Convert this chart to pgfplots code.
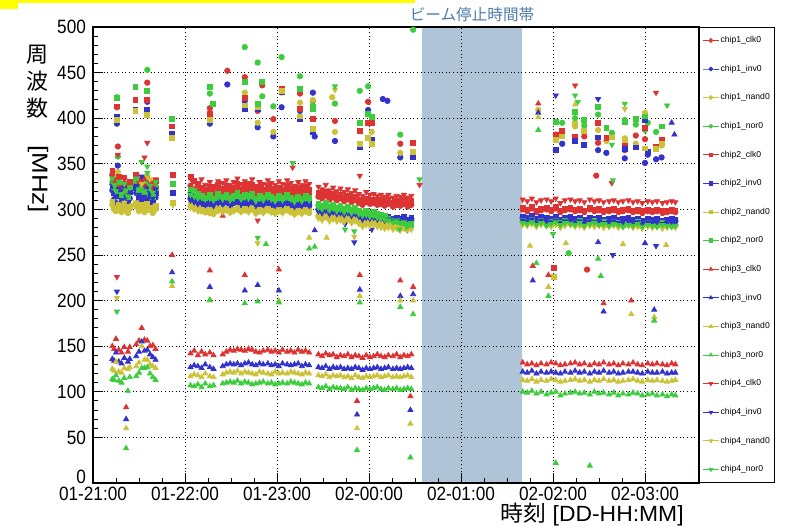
\documentclass[border=0pt]{standalone}
\usepackage{fontspec}
\setmainfont{Liberation Sans}
\newfontfamily\jp{Noto Sans CJK JP}
\usepackage{graphicx}
\usepackage{pgfplots}
\usepackage{pgfplotstable}
\pgfplotsset{compat=1.18}
\usetikzlibrary{calc}

\definecolor{rred}{HTML}{DD3333}
\definecolor{rblue}{HTML}{3333CC}
\definecolor{ryellow}{HTML}{CCC23A}
\definecolor{rgreen}{HTML}{3DCC3D}
\definecolor{band}{HTML}{AFC4D6}
\definecolor{bandtext}{HTML}{4F7BAA}
\definecolor{hilite}{HTML}{FFFF00}

% t = hours after 01-21:00; a=clk0 b=inv0 c=nand0 d=nor0, one group per chip
\pgfplotstableread{
t    a1  b1  c1  d1  a2  b2  c2  d2  a3  b3  c3  d3  a4  b4  c4  d4
0.21 338 321 305 330 342 326 308 334 150 136 125 114 336 326 308 334
0.23 326 311 300 322 333 318 302 327 147 134 123 113 330 318 302 327
0.25 320 307 298 314 328 315 300 320 158 143 133 118 331 315 300 320
0.28 330 316 302 324 336 322 305 330 146 133 122 112 334 322 305 330
0.31 318 305 297 312 322 310 299 316 143 131 121 110 325 310 299 316
0.34 328 318 304 320 335 324 307 328 149 137 126 115 333 324 307 328
0.36 322 309 300 316 327 314 302 321 83  70  60  38  329 314 302 321
0.38 316 304 296 310 320 308 298 314 144 133 125 101 324 308 298 314
0.40 324 312 301 318 330 319 304 324 149 136 127 116 331 319 304 324
0.47 332 318 303 326 338 324 306 331 152 139 128 117 337 326 308 334
0.50 321 309 298 315 326 313 301 319 156 144 132 121 329 316 302 322
0.53 327 315 302 321 333 320 305 326 170 155 150 126 352 336 328 352
0.56 318 306 297 312 323 311 299 317 157 145 135 126 326 314 300 320
0.59 329 316 303 323 334 321 306 328 156 146 135 127 336 324 336 340
0.62 322 310 299 316 328 315 302 320 150 141 130 120 330 318 333 326
0.65 316 305 296 310 320 308 298 314 151 138 128 116 324 312 299 318
0.68 325 313 300 319 331 318 304 324 147 135 126 113 333 322 304 330
0.86 nan nan nan nan 391 383 378 399 250 231 216 221 nan nan nan nan
0.87 nan nan nan nan 338 318 307 328 nan nan nan nan nan nan 305 nan
1.06 326 312 303 318 336 316 306 322 142 127 117 107 334 310 302 316
1.10 322 309 301 315 331 313 304 320 145 129 119 106 331 308 300 314
1.14 320 307 300 313 327 311 302 317 140 128 118 108 329 306 298 312
1.18 318 306 298 311 324 309 300 315 144 126 116 105 333 307 299 313
1.22 316 305 297 310 321 308 299 313 141 130 120 109 327 305 297 311
1.27 319 306 296 312 325 310 300 316 143 127 117 106 330 306 296 312
1.31 317 304 295 309 322 307 298 312 140 125 116 107 326 304 295 310
1.36 321 307 299 313 327 312 302 317 nan nan nan nan 331 307 298 313
1.41 318 306 298 311 323 309 300 314 141 128 119 109 329 306 297 311
1.45 320 308 300 312 326 311 301 316 144 130 121 110 332 308 299 313
1.49 316 304 297 310 321 308 299 313 146 131 122 111 327 305 296 310
1.53 319 307 299 312 324 310 300 315 145 130 121 110 330 307 298 312
1.57 322 308 300 314 328 312 302 318 147 131 123 112 334 309 300 315
1.61 317 305 298 311 322 309 299 314 146 129 120 109 328 306 297 311
1.65 320 307 299 313 326 311 301 316 145 131 122 111 331 308 299 313
1.69 318 306 298 311 324 310 300 315 147 132 121 110 329 306 297 312
1.73 321 308 300 313 327 312 302 317 146 130 120 108 333 308 300 314
1.77 316 304 296 309 321 307 298 312 144 129 119 109 326 304 295 309
1.81 319 306 298 312 325 310 300 315 143 131 122 110 330 307 298 312
1.85 317 305 297 310 322 309 299 313 145 130 121 111 328 305 296 310
1.90 320 307 299 312 326 311 301 316 146 131 120 109 332 308 299 313
1.94 318 305 297 311 323 309 299 314 144 129 119 110 329 306 297 311
1.98 316 304 296 309 321 308 298 312 145 130 122 108 327 304 295 309
2.02 319 306 298 311 324 310 300 315 143 128 120 109 331 306 298 312
2.06 317 305 297 310 322 308 299 313 146 131 121 110 328 305 296 310
2.11 320 307 299 312 326 311 301 316 144 130 120 109 332 307 299 313
2.15 318 305 297 310 323 309 299 313 145 129 122 111 329 305 297 311
2.19 315 303 295 308 320 307 297 311 143 130 121 110 326 303 294 308
2.23 318 305 297 310 324 309 299 314 146 131 120 109 330 306 297 311
2.27 316 304 296 309 321 308 298 312 144 128 119 108 327 304 295 309
2.31 319 306 298 311 325 310 300 315 145 130 121 110 331 306 298 312
2.35 317 304 296 310 322 308 298 313 143 129 120 109 328 304 296 310
2.45 314 300 293 305 318 301 294 306 141 127 118 105 325 298 290 302
2.49 312 298 291 303 316 300 292 304 139 126 117 104 322 296 288 300
2.53 315 301 294 306 319 302 295 307 142 128 119 106 327 299 291 303
2.57 311 297 290 302 315 299 291 303 140 125 116 103 321 295 287 299
2.61 313 299 292 304 317 301 293 305 141 127 118 105 324 297 289 301
2.65 310 298 290 301 314 299 291 302 138 126 117 104 320 295 287 298
2.69 312 299 291 303 316 300 292 304 140 127 118 104 323 296 288 300
2.73 309 297 289 300 313 298 290 301 139 125 116 103 319 294 286 297
2.77 311 298 290 302 315 299 291 303 141 126 117 105 322 296 288 299
2.81 308 296 288 299 312 297 289 300 138 125 115 102 318 293 285 296
2.85 310 297 289 301 314 298 290 302 140 127 118 104 321 295 287 298
2.89 307 295 287 298 311 296 288 299 139 126 116 103 317 292 284 295
2.93 305 291 283 294 309 293 284 296 137 124 115 102 315 289 281 293
2.97 308 294 286 297 312 295 287 298 140 126 117 104 319 291 283 294
3.01 306 292 285 295 310 293 286 296 138 125 116 103 316 290 282 292
3.05 307 293 285 296 311 294 286 297 139 126 117 104 317 291 283 293
3.09 305 291 284 294 309 292 285 295 141 127 118 105 315 289 281 291
3.13 306 292 283 293 310 293 284 294 139 125 116 103 316 290 280 290
3.17 304 290 282 292 308 291 283 293 138 126 117 102 314 288 279 289
3.21 306 291 283 291 310 292 284 290 140 127 118 104 316 289 280 288
3.26 303 289 281 289 307 290 282 288 139 125 116 103 313 287 278 286
3.30 305 290 282 290 309 291 283 287 141 126 117 104 315 288 279 287
3.34 304 289 281 288 308 290 282 286 138 125 116 102 314 287 277 285
3.38 306 291 283 289 310 292 284 285 140 126 117 103 316 289 279 286
3.42 303 288 280 287 307 289 281 284 139 127 118 104 313 286 277 284
3.46 305 290 282 288 309 291 283 283 141 126 116 103 315 288 278 285
4.67 300 291 285 287 302 292 286 288 132 122 113 100 311 288 283 285
4.72 298 290 284 285 300 291 285 286 130 121 112 99  309 287 282 284
4.77 301 292 286 288 303 293 287 289 131 123 114 101 312 289 284 286
4.82 297 289 283 284 299 290 284 285 129 120 111 98  308 286 281 283
4.87 299 291 285 286 301 292 286 287 131 122 113 100 310 288 283 285
4.93 300 290 284 283 302 291 285 284 130 121 112 97  311 287 282 282
4.98 298 289 283 285 300 290 284 286 132 122 114 99  309 286 281 284
5.03 301 291 285 287 303 292 286 288 131 121 113 100 312 288 283 286
5.08 297 288 282 284 299 289 283 285 129 120 111 96  307 285 280 283
5.13 299 290 284 286 301 291 285 287 130 122 112 98  310 287 282 285
5.19 300 291 285 285 302 292 286 286 131 121 113 99  311 288 283 284
5.24 298 289 283 284 300 290 284 285 132 123 114 100 309 286 281 283
5.29 299 290 284 286 301 291 285 287 130 121 112 98  310 287 282 285
5.34 297 288 282 283 299 289 283 284 131 122 113 99  308 285 280 282
5.40 300 290 284 285 302 291 285 286 129 120 111 97  311 287 282 284
5.45 298 289 283 286 300 290 284 287 131 122 113 100 309 286 281 285
5.50 299 290 284 284 301 291 285 285 130 121 112 98  310 287 282 283
5.55 297 288 282 285 299 289 283 286 132 123 114 99  308 285 280 284
5.61 298 289 283 283 300 290 284 284 130 121 112 97  309 286 281 282
5.66 299 290 284 285 301 291 285 286 131 122 113 99  310 287 282 284
5.71 297 288 282 284 299 289 283 285 129 120 111 96  308 285 280 283
5.76 298 289 283 282 300 290 284 283 131 121 112 98  309 286 281 281
5.82 299 290 284 284 301 291 285 285 130 122 113 97  310 287 282 283
5.87 297 288 282 283 299 289 283 284 132 122 114 99  308 285 280 282
5.92 298 289 283 285 300 290 284 286 130 121 112 98  309 286 281 284
5.97 296 287 281 282 298 288 282 283 129 120 111 96  307 284 279 281
6.03 298 289 283 284 300 290 284 285 131 122 113 97  309 286 281 283
6.08 297 288 282 283 299 289 283 284 130 121 112 98  308 285 280 282
6.13 298 289 283 282 300 290 284 283 131 121 113 96  309 286 281 281
6.19 296 287 281 284 298 288 282 285 130 122 112 97  307 284 279 283
6.24 297 288 282 283 299 289 283 284 129 120 111 95  308 285 280 282
6.29 298 289 283 282 300 290 284 283 131 121 112 97  309 286 281 281
6.33 297 288 282 283 299 289 283 284 130 121 113 96  308 285 280 282
0.26 412 394 400 423 413 402 398 422 nan nan nan nan 226 210 203 188
0.27 369 348 341 358 nan nan nan nan nan nan nan nan 360 nan nan nan
0.46 nan nan nan nan 420 409 408 434 nan nan nan nan nan nan nan nan
0.59 439 418 420 453 420 409 404 430 nan nan nan nan 373 nan nan 347
0.56 nan nan nan nan nan nan nan nan nan nan nan nan 357 nan nan nan
1.27 411 394 400 427 405 nan 398 434 233 215 200 201 nan nan nan nan
1.30 nan nan nan nan nan nan nan 416 nan nan nan nan nan nan nan nan
1.41 nan nan nan nan nan nan nan nan 293 nan nan nan nan nan nan nan
1.46 452 437 nan nan nan nan nan nan nan nan nan nan nan nan nan nan
1.65 445 419 428 478 422 410 414 440 228 211 nan 197 nan nan nan nan
1.79 408 390 395 461 410 410 412 416 nan 217 nan 199 288 nan 263 269
1.84 436 nan nan 424 nan nan nan 440 nan nan nan nan nan nan nan nan
1.88 nan nan nan nan nan nan nan nan nan nan nan 262 nan nan nan nan
1.96 399 380 385 413 nan nan nan nan nan nan nan nan nan nan nan nan
2.02 nan nan nan nan nan nan nan nan 234 211 200 198 nan nan nan nan
2.05 431 412 428 467 432 429 430 nan nan nan nan nan nan nan nan nan
2.17 nan nan nan nan nan nan nan nan nan nan nan nan 346 nan nan 351
2.25 427 408 417 446 410 399 402 432 nan nan nan nan nan nan nan nan
2.35 nan nan nan nan nan nan nan nan nan nan 269 257 nan nan nan nan
2.39 419 428 420 414 399 385 388 410 nan nan nan nan nan nan nan nan
2.41 nan 380 nan nan nan nan nan nan nan 277 nan 259 nan nan nan nan
2.54 nan nan nan nan nan nan nan nan nan nan 269 nan nan nan nan nan
2.60 nan nan 423 nan nan nan nan nan nan nan nan nan nan nan nan nan
2.63 397 375 385 416 nan nan nan nan nan nan nan nan nan nan 431 435
2.74 nan nan nan nan nan nan nan nan nan nan nan nan nan 284 nan 278
2.84 nan nan nan nan nan nan nan nan nan nan nan nan nan 264 270 276
2.87 nan nan nan nan nan nan nan nan 90  75  60  36  nan nan nan nan
2.90 nan nan nan 430 386 368 372 395 228 212 205 198 337 nan nan nan
2.99 418 409 nan 435 395 378 378 405 nan nan nan nan nan nan nan nan
3.03 nan nan 385 nan 395 376 372 401 nan nan nan nan nan 278 nan nan
3.15 nan 421 nan nan nan nan nan nan nan nan nan nan nan nan nan nan
3.20 nan 419 nan nan nan nan nan nan nan nan nan nan nan nan nan nan
3.33 nan nan nan nan nan nan nan nan nan nan nan nan nan nan nan 278
3.34 372 357 362 382 nan nan nan nan 222 205 200 193 nan nan nan nan
3.41 nan nan nan nan nan nan nan nan nan nan nan nan nan 278 nan 281
3.45 nan nan nan nan nan nan nan nan 95  80  65  28  nan nan nan nan
3.48 nan nan nan 497 373 358 363 nan 215 207 200 185 nan nan nan nan
3.55 nan nan nan nan nan nan nan nan nan nan nan nan 327 nan nan 333
4.75 nan nan nan nan nan nan nan nan nan nan 260 nan nan nan nan nan
4.78 nan nan nan nan nan nan nan nan 238 222 nan nan nan nan nan nan
4.82 nan nan nan nan nan nan nan nan nan nan nan 241 nan nan nan nan
4.84 nan nan 409 nan nan nan nan nan 416 406 401 387 nan nan nan nan
4.95 nan nan nan nan nan nan nan nan 228 nan 215 205 nan nan nan nan
5.00 nan nan nan nan nan nan nan nan nan nan nan nan nan nan nan 273
5.01 nan nan nan nan 236 nan 226 nan nan nan nan nan nan nan nan nan
5.03 382 365 376 nan 382 365 376 396 nan nan nan 22  nan 425 nan nan
5.10 nan 372 383 395 386 nan 380 nan nan nan nan nan nan nan nan nan
5.14 nan nan nan nan nan nan nan nan nan nan 263 nan nan nan nan nan
5.17 nan nan nan 252 nan nan nan nan nan nan nan nan nan nan nan nan
5.24 nan 378 391 400 380 375 394 407 nan nan 415 406 436 nan nan 425
5.27 nan nan nan nan nan nan nan nan nan nan nan nan nan nan nan 418
5.34 380 nan nan 392 nan 371 386 398 nan nan nan nan nan nan nan nan
5.37 234 nan nan nan nan nan nan nan nan nan nan nan nan nan nan nan
5.40 nan nan nan nan nan nan nan nan nan nan nan 19  nan nan nan nan
5.47 337 nan nan nan nan nan nan nan nan nan nan nan nan nan nan nan
5.49 373 365 387 404 395 379 nan 412 nan 264 nan 246 nan 421 nan nan
5.52 nan nan nan nan nan nan nan nan nan nan nan 227 nan nan nan nan
5.55 nan nan nan nan nan nan nan nan 197 188 nan nan nan nan nan nan
5.58 nan 362 375 nan 378 nan nan 389 nan nan nan nan nan nan nan nan
5.64 nan nan nan 384 nan nan 379 nan nan nan nan nan 329 nan nan 371
5.65 nan nan nan nan nan nan nan nan nan nan nan nan nan 250 nan 332
5.76 nan nan nan nan nan nan nan nan nan nan 262 nan nan nan nan nan
5.78 365 356 378 398 370 366 376 396 nan nan nan nan nan nan 410 416
5.85 nan nan nan nan nan nan nan nan 200 nan 185 nan nan nan nan nan
5.90 381 nan 372 393 nan 368 nan 399 nan nan nan nan nan nan nan nan
6.00 377 351 406 387 389 398 367 402 nan 263 nan nan nan nan nan nan
6.03 nan 360 nan 395 nan 363 nan nan nan nan nan nan nan nan nan nan
6.10 nan nan nan nan nan nan nan nan nan 190 182 178 nan nan nan nan
6.12 nan 355 nan 385 369 nan 366 nan nan nan nan nan 428 260 nan nan
6.18 nan 357 370 nan 376 nan 372 391 nan nan nan nan nan nan nan nan
6.23 nan nan nan nan nan nan nan nan nan nan 261 nan nan nan nan nan
6.24 nan nan nan nan nan nan nan nan nan nan nan nan nan nan nan 414
6.29 nan nan nan nan nan nan nan nan nan 395 nan nan nan nan nan nan
6.32 nan nan nan nan nan nan nan nan nan 382 nan nan nan nan nan nan
}\freq

\begin{document}
\begin{tikzpicture}
\begin{axis}[
    name=ax, set layers,
    width=303pt, height=228pt, scale only axis,
    xmin=0, xmax=6.587, ymin=0, ymax=500,
    xtick={0,1,2,3,4,5,6},
    xticklabels={\scalebox{1}[1.12]{01-21:00}, \scalebox{1}[1.12]{01-22:00}, \scalebox{1}[1.12]{01-23:00}, \scalebox{1}[1.12]{02-00:00}, \scalebox{1}[1.12]{02-01:00}, \scalebox{1}[1.12]{02-02:00}, \scalebox{1}[1.12]{02-03:00}},
    xticklabel style={inner sep=1.6pt},
    ytick={50,100,...,500},
    extra y ticks={0},
    extra y tick style={grid=none, yticklabel style={yshift=3pt}},
    yticklabel={\scalebox{1}[1.12]{\pgfmathprintnumber{\tick}}},
    /pgf/number format/assume math mode=true,
    minor x tick num=3, minor y tick num=4,
    tick align=inside, xtick pos=left, ytick pos=left,
    major tick length=5pt, minor tick length=2.5pt,
    tick style={black, line width=0.5pt},
    grid=major,
    major grid style={black, line width=0.5pt, dash pattern=on 0.5pt off 1.3pt},
    axis line style={line width=0.6pt},
    tick label style={font=\fontsize{8.6}{10}\selectfont},
    only marks,
    clip mode=individual,
    legend cell align=left,
    legend style={at={(1,1)}, anchor=north west, draw=black, fill=white,
        font=\fontsize{4.3}{5}\selectfont, row sep=8.9pt,
        inner xsep=1.5pt, inner ysep=3.8pt,
        nodes={inner sep=0.6pt, text height=3.2pt, text depth=1pt}},
    legend image code/.code={
        \draw[mark repeat=2, mark phase=2, mark size=0.9pt, line width=0.5pt]
            plot[sharp plot] coordinates {(0cm,0cm) (0.14cm,0cm) (0.28cm,0cm)};},
]
\begin{pgfonlayer}{axis background}
\fill[band] (axis cs:3.576,0) rectangle (axis cs:4.663,500);
\end{pgfonlayer}

\addplot[rred,    mark=*, mark size=1.35pt] table[x=t, y=a1] {\freq};
\addlegendentry{chip1\_clk0}
\addplot[rblue,   mark=*, mark size=1.35pt] table[x=t, y=b1] {\freq};
\addlegendentry{chip1\_inv0}
\addplot[ryellow, mark=*, mark size=1.35pt] table[x=t, y=c1] {\freq};
\addlegendentry{chip1\_nand0}
\addplot[rgreen,  mark=*, mark size=1.35pt] table[x=t, y=d1] {\freq};
\addlegendentry{chip1\_nor0}
\addplot[rred,    mark=square*, mark size=1.2pt] table[x=t, y=a2] {\freq};
\addlegendentry{chip2\_clk0}
\addplot[rblue,   mark=square*, mark size=1.2pt] table[x=t, y=b2] {\freq};
\addlegendentry{chip2\_inv0}
\addplot[ryellow, mark=square*, mark size=1.2pt] table[x=t, y=c2] {\freq};
\addlegendentry{chip2\_nand0}
\addplot[rgreen,  mark=square*, mark size=1.2pt] table[x=t, y=d2] {\freq};
\addlegendentry{chip2\_nor0}
\addplot[rred,    mark=triangle*, mark size=1.45pt] table[x=t, y=a3] {\freq};
\addlegendentry{chip3\_clk0}
\addplot[rblue,   mark=triangle*, mark size=1.45pt] table[x=t, y=b3] {\freq};
\addlegendentry{chip3\_inv0}
\addplot[ryellow, mark=triangle*, mark size=1.45pt] table[x=t, y=c3] {\freq};
\addlegendentry{chip3\_nand0}
\addplot[rgreen,  mark=triangle*, mark size=1.45pt] table[x=t, y=d3] {\freq};
\addlegendentry{chip3\_nor0}
\addplot[rred,    mark=triangle*, mark size=1.45pt, mark options={rotate=180}] table[x=t, y=a4] {\freq};
\addlegendentry{chip4\_clk0}
\addplot[rblue,   mark=triangle*, mark size=1.45pt, mark options={rotate=180}] table[x=t, y=b4] {\freq};
\addlegendentry{chip4\_inv0}
\addplot[ryellow, mark=triangle*, mark size=1.45pt, mark options={rotate=180}] table[x=t, y=c4] {\freq};
\addlegendentry{chip4\_nand0}
\addplot[rgreen,  mark=triangle*, mark size=1.45pt, mark options={rotate=180}] table[x=t, y=d4] {\freq};
\addlegendentry{chip4\_nor0}
\end{axis}

\pgfresetboundingbox
\path[use as bounding box] ($(ax.south west)+(-46.5pt,-21pt)$) rectangle ($(ax.north east)+(45pt,13.5pt)$);
\coordinate (TL) at ($(ax.north west)+(-46.5pt,13.5pt)$);
\fill[hilite] (TL) rectangle ++(207.5pt,-1.7pt);
\fill[hilite] (TL) rectangle ++(9pt,-4.5pt);

\node[anchor=base, inner sep=0, text=bandtext, font=\jp\fontsize{7.8}{9}\selectfont]
    at ($(ax.north west)!0.6255!(ax.north east)+(0,3.5pt)$) {ビーム停止時間帯};

\node[anchor=base east, inner sep=0, font=\fontsize{11}{12}\selectfont]
    at ($(ax.south west)+(295.5pt,-19.2pt)$) {\scalebox{1.04}[1]{{\jp 時刻} [DD-HH:MM]}};

\node[anchor=north, inner sep=0, font=\fontsize{11}{13.5}\selectfont]
    at ($(ax.north west)+(-27.5pt,-8pt)$)
    {\begin{tabular}{@{}c@{}}{\jp 周}\\{\jp 波}\\{\jp 数}\\[1pt]\rotatebox{-90}{\scalebox{1.18}[1]{[MHz]}}\end{tabular}};
\end{tikzpicture}
\end{document}
